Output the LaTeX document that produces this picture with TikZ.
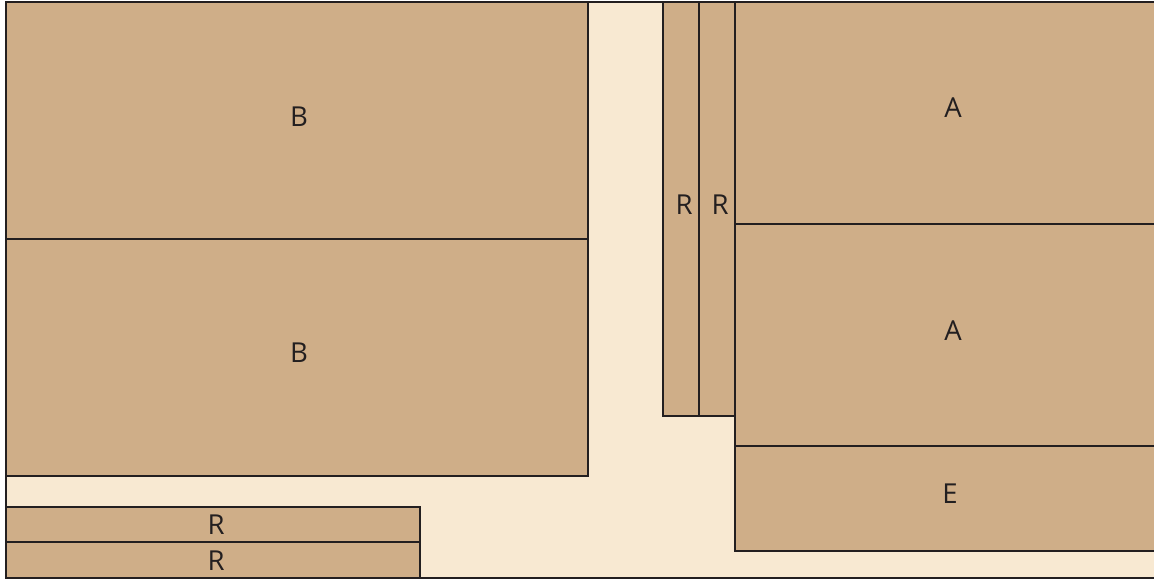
\documentclass[tikz,border=0pt]{standalone}
\usepackage{fontspec}
\setmainfont{Open Sans}
\definecolor{tan}{HTML}{CFAE88}
\definecolor{cream}{HTML}{F8E9D2}
\definecolor{ink}{HTML}{231F20}
\begin{document}
\begin{tikzpicture}[x=1pt,y=-1pt,
  part/.style={draw=ink,line width=1.6pt,fill=tan},
  lab/.style={font=\fontsize{27.5}{30}\selectfont,text=ink,inner sep=0pt}]
\useasboundingbox (0,0) rectangle (1154,580);
\clip (0,0) rectangle (1154,580);
\fill[white] (0,0) rectangle (1154,580);
\draw[draw=ink,line width=2.4pt,fill=cream] (6,2) rectangle (1170,578);
\draw[part] (6,2) rectangle (588,239);
\draw[part] (6,239) rectangle (588,476);
\draw[part] (6,507) rectangle (420,542);
\draw[part] (6,542) rectangle (420,578);
\draw[part] (663,2) rectangle (699,416);
\draw[part] (699,2) rectangle (735,416);
\draw[part] (735,2) rectangle (1170,224);
\draw[part] (735,224) rectangle (1170,446);
\draw[part] (735,446) rectangle (1170,551);
\node[lab] (b1) at (299,117) {B};
\node[lab] (b2) at (299,353) {B};
\node[lab] (r1) at (216,525) {R};
\node[lab] (r2) at (216,561) {R};
\node[lab] (r3) at (684,205) {R};
\node[lab] (r4) at (720,205) {R};
\node[lab] (a1) at (953,108) {A};
\node[lab] (a2) at (953,331) {A};
\node[lab] (e1) at (950,494) {E};
\draw[ink,line width=2.4pt] (6,2) -- (1170,2) (6,2) -- (6,578) -- (1170,578);
\end{tikzpicture}
\end{document}
